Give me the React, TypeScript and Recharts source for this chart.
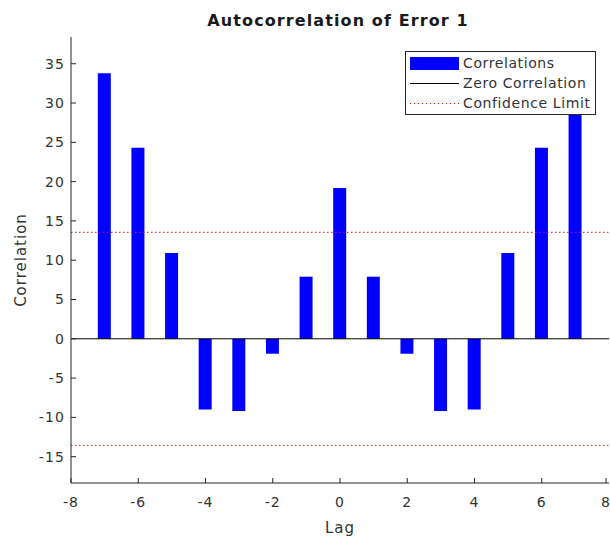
import React from "react";
import {
  BarChart,
  Bar,
  XAxis,
  YAxis,
  ReferenceLine,
  Legend,
} from "recharts";

const lags = [-7, -6, -5, -4, -3, -2, -1, 0, 1, 2, 3, 4, 5, 6, 7];
const correlations = [33.8, 24.3, 10.9, -9.0, -9.2, -1.9, 7.9, 19.2, 7.9, -1.9, -9.2, -9.0, 10.9, 24.3, 33.8];
const confidenceLimit = 13.55;
const xTicks = [-8, -6, -4, -2, 0, 2, 4, 6, 8];
const yTicks = [-15, -10, -5, 0, 5, 10, 15, 20, 25, 30, 35];

const data = lags.map((lag, i) => ({ lag, value: correlations[i] }));

const FONT = "'DejaVu Sans', sans-serif";
const AXIS = "#262626";
const TEXT = "#333333";

function XTick(props: any) {
  const { x, y, payload } = props;
  return (
    <g>
      <line x1={x} x2={x} y1={y} y2={y - 5} stroke={AXIS} />
      <text x={x} y={y + 24} textAnchor="middle" fill={TEXT} fontSize={14} letterSpacing={1.1} fontFamily={FONT}>
        {payload.value}
      </text>
    </g>
  );
}

function YTick(props: any) {
  const { x, y, payload } = props;
  return (
    <g>
      <line x1={x} x2={x + 5} y1={y} y2={y} stroke={AXIS} />
      <text x={x - 6} y={y + 5} textAnchor="end" fill={TEXT} fontSize={14} letterSpacing={1.1} fontFamily={FONT}>
        {payload.value}
      </text>
    </g>
  );
}

function LegendBox() {
  const row = { display: "flex", alignItems: "center", height: 20, whiteSpace: "nowrap" } as const;
  const txt = { fontSize: 14, letterSpacing: 0.6, color: TEXT, marginLeft: 4 } as const;
  return (
    <div
      style={{
        border: "1px solid #262626",
        background: "#fff",
        padding: "1px 0 1px 4px",
        fontFamily: FONT,
        lineHeight: "20px",
        boxSizing: "border-box",
        width: 191,
        overflow: "hidden",
      }}
    >
      <div style={row}>
        <div style={{ width: 49, height: 13, background: "#0000ff", flex: "none" }} />
        <span style={txt}>Correlations</span>
      </div>
      <div style={row}>
        <div style={{ width: 49, height: 1, background: "#000", flex: "none" }} />
        <span style={txt}>Zero Correlation</span>
      </div>
      <div style={row}>
        <div
          style={{
            width: 49,
            height: 1,
            flex: "none",
            background: "repeating-linear-gradient(to right, #ff0000 0 1px, transparent 1px 4px)",
          }}
        />
        <span style={txt}>Confidence Limit</span>
      </div>
    </div>
  );
}

export default function App() {
  return (
    <div style={{ position: "absolute", left: 0, top: 0, width: 610, height: 538, background: "#fff" }}>
      <BarChart
        width={610}
        height={538}
        data={data}
        margin={{ top: 37, right: 1, bottom: 25, left: 0 }}
      >
        <XAxis
          dataKey="lag"
          type="number"
          domain={[-8, 8]}
          ticks={xTicks}
          allowDataOverflow
          height={30}
          tickSize={0}
          tickMargin={0}
          tick={<XTick />}
          axisLine={{ stroke: AXIS }}
          tickLine={false}
          label={{ value: "Lag", position: "bottom", offset: 9, fill: TEXT, fontSize: 15, fontFamily: FONT, letterSpacing: 1 }}
        />
        <YAxis
          domain={[-18.35, 38.4]}
          ticks={yTicks}
          allowDataOverflow
          width={71}
          tickSize={0}
          tickMargin={0}
          tick={<YTick />}
          axisLine={{ stroke: AXIS }}
          tickLine={false}
          label={{ value: "Correlation", angle: -90, position: "insideLeft", offset: 21, fill: TEXT, fontSize: 15, fontFamily: FONT, letterSpacing: 1, style: { textAnchor: "middle" } }}
        />
        <Bar dataKey="value" fill="#0000ff" barSize={13} isAnimationActive={false} />
        <ReferenceLine y={0} stroke="#000" strokeWidth={1} />
        <ReferenceLine y={confidenceLimit} stroke="#ff0000" strokeWidth={1} strokeDasharray="1.5 2.5" />
        <ReferenceLine y={-confidenceLimit} stroke="#ff0000" strokeWidth={1} strokeDasharray="1.5 2.5" />
        <Legend
          layout="horizontal"
          align="center"
          verticalAlign="middle"
          content={<LegendBox />}
          wrapperStyle={{ top: 51, left: 405, width: 191 }}
        />
        <text x={338} y={26} textAnchor="middle" fontSize={16} fontWeight="bold" letterSpacing={1.1} fill="#1a1a1a" fontFamily={FONT}>
          Autocorrelation of Error 1
        </text>
      </BarChart>
    </div>
  );
}
